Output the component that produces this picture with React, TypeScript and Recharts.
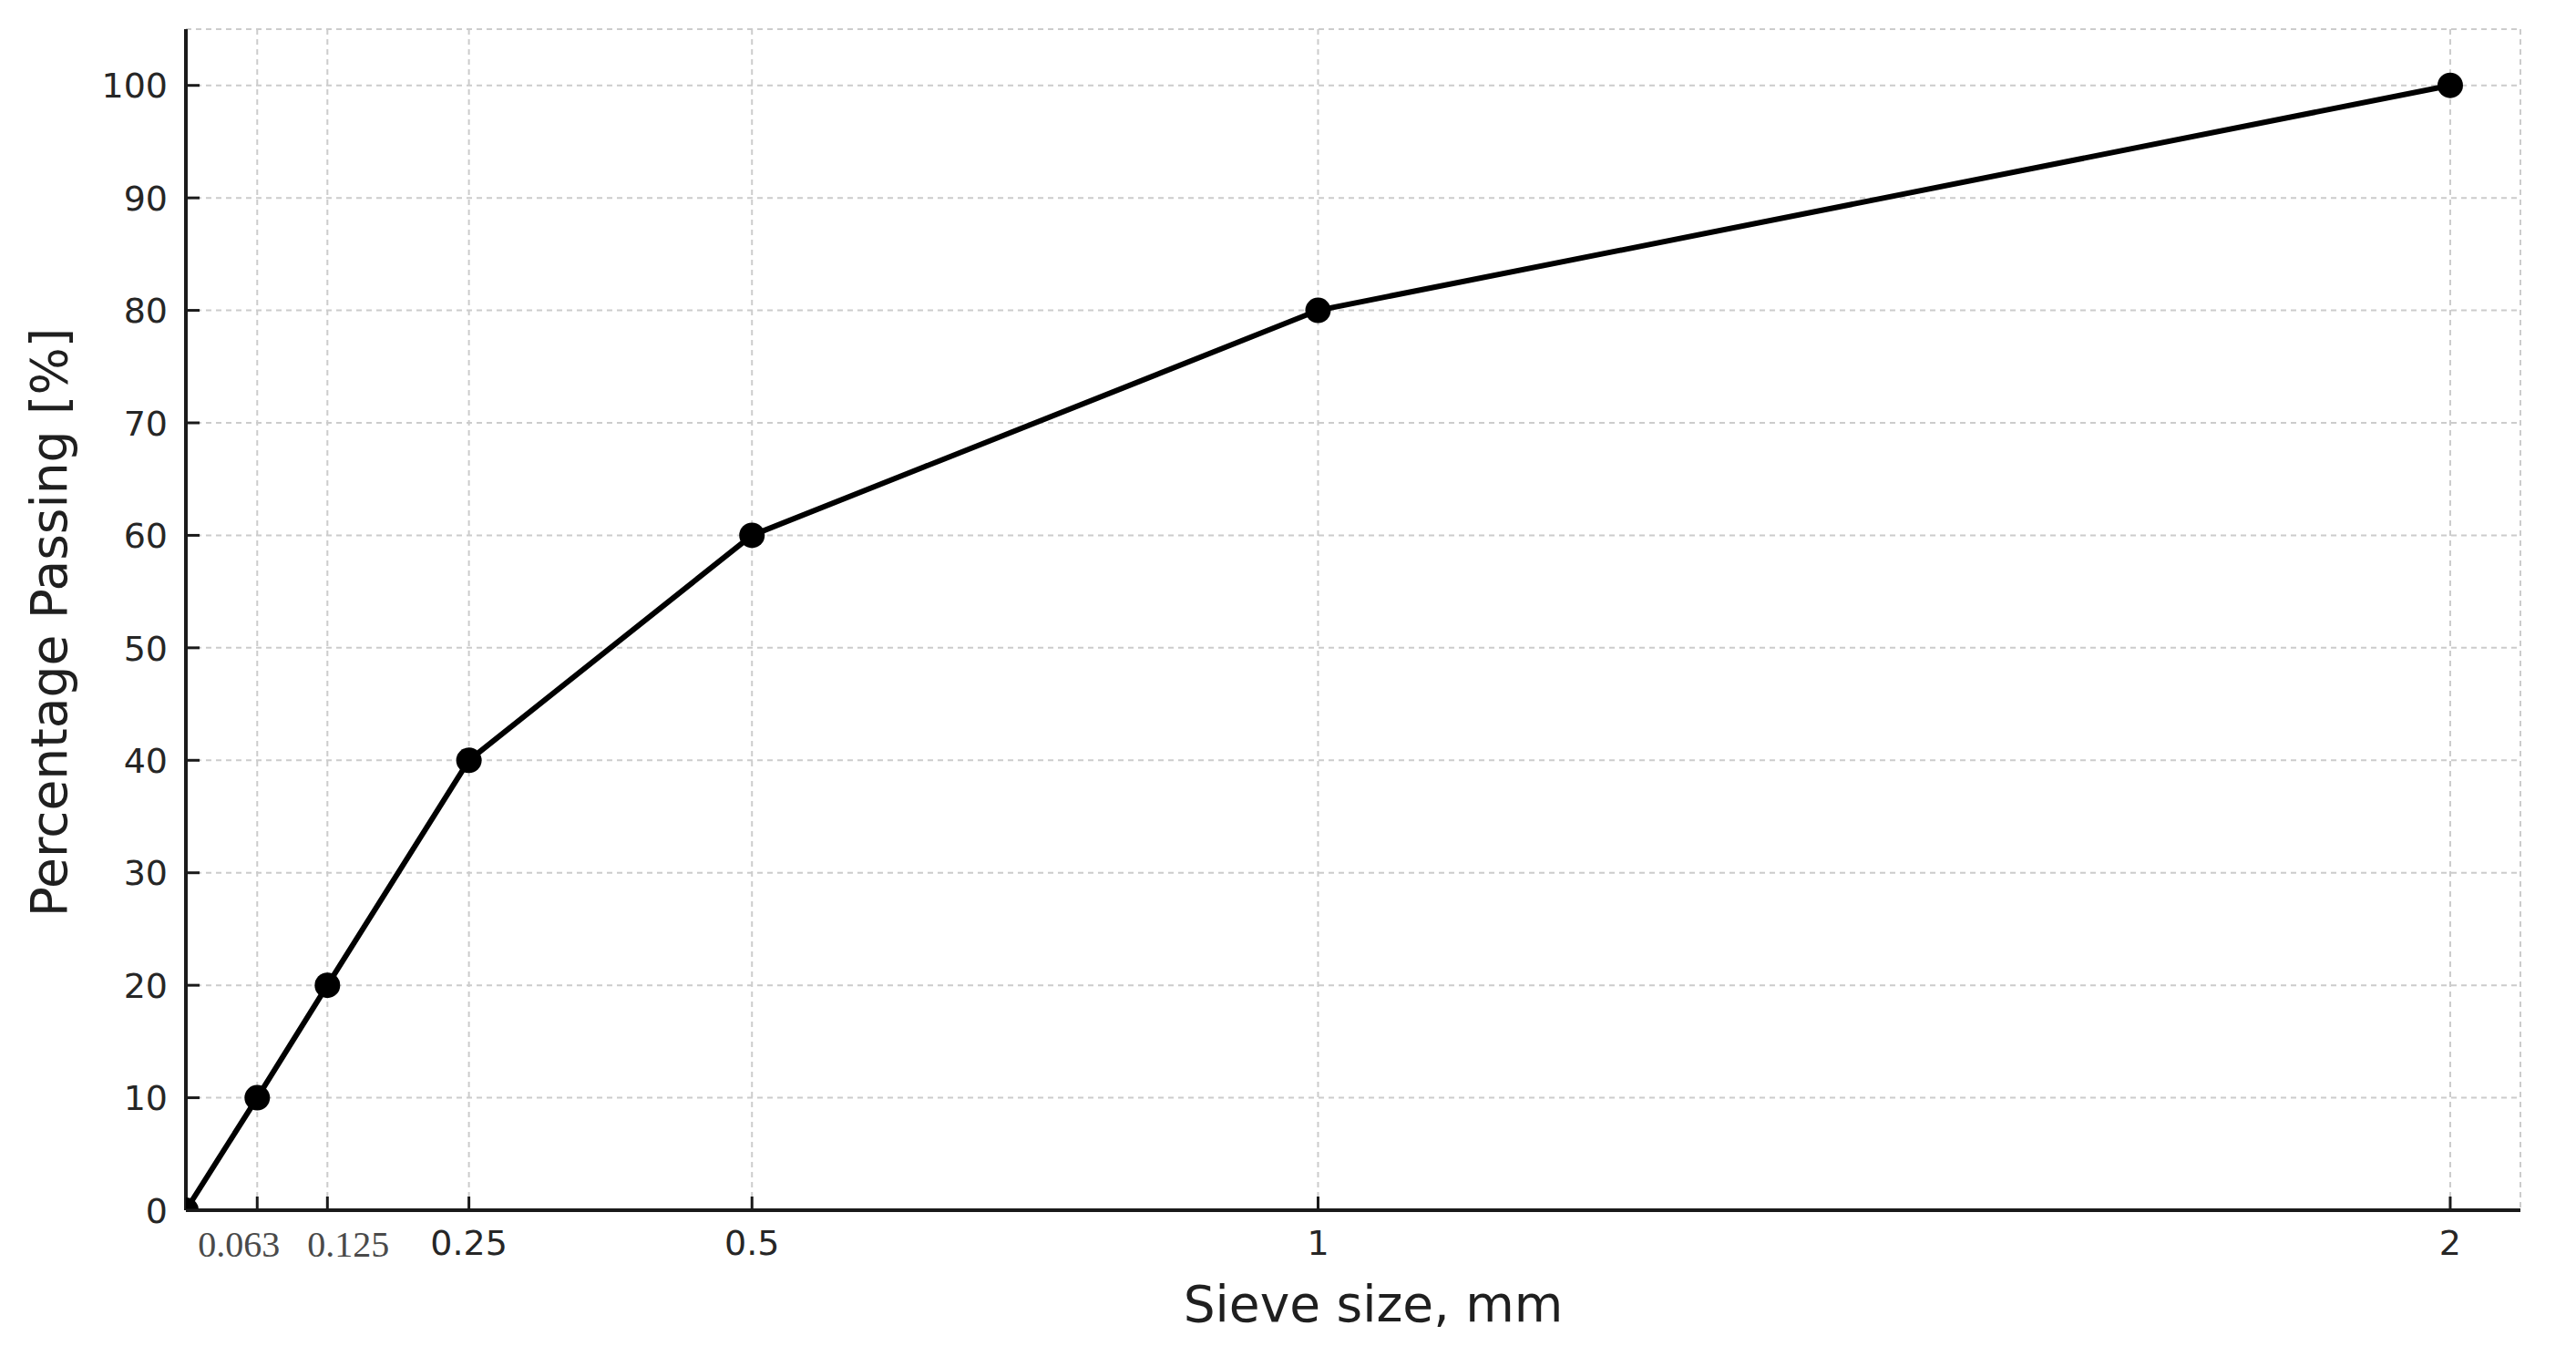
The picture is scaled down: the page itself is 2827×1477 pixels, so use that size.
import { LineChart, Line, XAxis, YAxis, CartesianGrid } from 'recharts';

// Grading curve: sieve size (mm) vs percentage passing
const sieveSizes = [0, 0.063, 0.125, 0.25, 0.5, 1, 2];
const percentPassing = [0, 10, 20, 40, 60, 80, 100];

const xTicks = [0.063, 0.125, 0.25, 0.5, 1, 2];
const yTicks = [0, 10, 20, 30, 40, 50, 60, 70, 80, 90, 100];

const data = sieveSizes.map((size, i) => ({ size, passing: percentPassing[i] }));

const SANS = '"DejaVu Sans", Verdana, sans-serif';
const SERIF = '"Liberation Serif", "Times New Roman", serif';
const TICK_LEN = 15;
const X_TICK_GAP = 22;
const Y_TICK_GAP = 20;

// the two smallest sieves are set in a serif face and nudged apart
const serifTickShift: Record<string, number> = { '0.063': -20, '0.125': 23 };

function XTick(props: any) {
  const { x, y, payload } = props;
  const label = String(payload.value);
  const axisY = y - X_TICK_GAP;
  const shift = serifTickShift[label];
  const serif = shift !== undefined;
  return (
    <g>
      <line x1={x} x2={x} y1={axisY} y2={axisY - TICK_LEN} stroke="#1a1a1a" strokeWidth={3} />
      <text
        x={x + (shift ?? 0)}
        y={y}
        dy="0.72em"
        textAnchor="middle"
        fontFamily={serif ? SERIF : SANS}
        fontSize={serif ? 40 : 38}
        fill={serif ? '#4a4a4a' : '#262626'}
      >
        {label}
      </text>
    </g>
  );
}

function YTick(props: any) {
  const { x, y, payload } = props;
  const axisX = x + Y_TICK_GAP;
  return (
    <g>
      <line x1={axisX} x2={axisX + TICK_LEN} y1={y} y2={y} stroke="#1a1a1a" strokeWidth={3} />
      <text x={x} y={y} dy="0.36em" textAnchor="end" fontFamily={SANS} fontSize={38} fill="#262626">
        {payload.value}
      </text>
    </g>
  );
}

function XTitle(props: any) {
  const { viewBox } = props;
  const cx = viewBox.x + viewBox.width / 2 + 22;
  return (
    <text x={cx} y={viewBox.y + 122} textAnchor="middle" fontFamily={SANS} fontSize={55} fill="#1f1f1f">
      Sieve size, mm
    </text>
  );
}

function YTitle(props: any) {
  const { viewBox } = props;
  const cx = viewBox.x + 39;
  const cy = viewBox.y + viewBox.height / 2 + 3;
  return (
    <text
      x={cx}
      y={cy}
      transform={`rotate(-90 ${cx} ${cy})`}
      textAnchor="middle"
      fontFamily={SANS}
      fontSize={55}
      fill="#1f1f1f"
    >
      Percentage Passing [%]
    </text>
  );
}

export default function App() {
  return (
    <div style={{ position: 'absolute', left: 0, top: 0, width: 2827, height: 1477, background: '#fff' }}>
      <LineChart width={2827} height={1477} data={data} margin={{ top: 32, right: 61, left: 34, bottom: 22 }}>
        <CartesianGrid stroke="#cccccc" strokeWidth={2} strokeDasharray="6 5" />
        <XAxis
          type="number"
          dataKey="size"
          domain={[0, 2.062]}
          ticks={xTicks}
          allowDataOverflow
          height={127}
          tickSize={0}
          tickMargin={X_TICK_GAP}
          tickLine={false}
          axisLine={{ stroke: '#1a1a1a', strokeWidth: 4 }}
          tick={<XTick />}
          label={<XTitle />}
        />
        <YAxis
          type="number"
          domain={[0, 105]}
          ticks={yTicks}
          allowDataOverflow
          width={170}
          tickSize={0}
          tickMargin={Y_TICK_GAP}
          tickLine={false}
          axisLine={{ stroke: '#1a1a1a', strokeWidth: 4 }}
          tick={<YTick />}
          label={<YTitle />}
        />
        <Line
          type="linear"
          dataKey="passing"
          stroke="#000"
          strokeWidth={6}
          dot={{ r: 14, fill: '#000', stroke: '#000', strokeWidth: 0 }}
          activeDot={false}
          isAnimationActive={false}
        />
      </LineChart>
    </div>
  );
}
